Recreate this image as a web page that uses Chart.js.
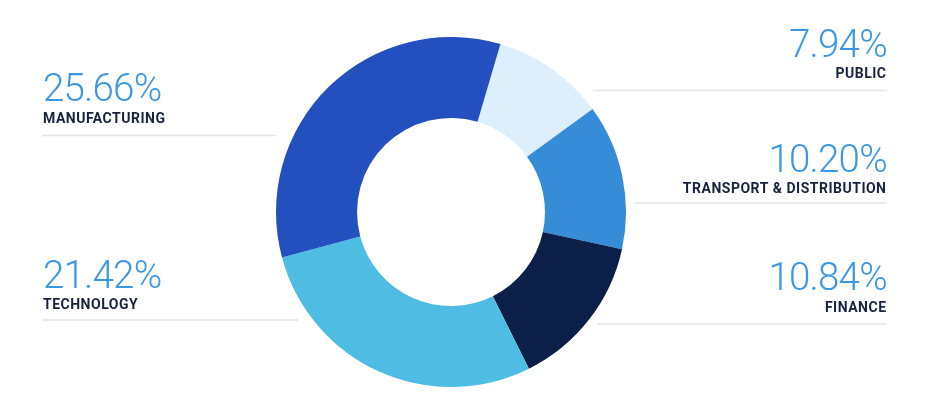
<!DOCTYPE html>
<html>
<head>
<meta charset="utf-8">
<script src="https://cdn.jsdelivr.net/npm/chart.js@4"></script>
<style>
  html, body { margin: 0; padding: 0; background: #fff; }
  #wrap { width: 936px; height: 402px; position: relative; }
</style>
</head>
<body>
<div id="wrap"><canvas id="sectors"></canvas></div>
<script>
// sector shares, clockwise from the top-right slice
const SECTORS = ['PUBLIC', 'TRANSPORT & DISTRIBUTION', 'FINANCE', 'TECHNOLOGY', 'MANUFACTURING'];
const SHARES = [7.94, 10.20, 10.84, 21.42, 25.66];
const COLORS = ['#ddeefd', '#368cd6', '#0b1f48', '#4fbde3', '#2350be'];

// where each callout sits: side, baseline of the big number, baseline of the name, rule y, rule span
const CALLOUTS = [
  { side: 'right', num: 57,  name: 78,  rule: 90.5,  from: 593, to: 887 },
  { side: 'right', num: 172, name: 193, rule: 203,   from: 635, to: 887 },
  { side: 'right', num: 290, name: 311.5, rule: 324, from: 597, to: 887 },
  { side: 'left',  num: 288, name: 309, rule: 320,   from: 42,  to: 298 },
  { side: 'left',  num: 100.5, name: 123, rule: 135.5, from: 42, to: 276 },
];

const calloutPlugin = {
  id: 'callouts',
  afterDraw(chart) {
    const ctx = chart.ctx;
    ctx.save();
    CALLOUTS.forEach((c, i) => {
      const x = c.side === 'left' ? 43 : 886;
      ctx.textAlign = c.side;
      ctx.textBaseline = 'alphabetic';

      ctx.strokeStyle = '#e4e4e6';
      ctx.lineWidth = 1.4;
      ctx.beginPath();
      ctx.moveTo(c.from, c.rule);
      ctx.lineTo(c.to, c.rule);
      ctx.stroke();

      ctx.fillStyle = '#3b97e2';
      ctx.font = '300 38.5px Roboto';
      ctx.letterSpacing = '-0.8px';
      ctx.fillText(SHARES[i].toFixed(2) + '%', c.side === 'left' ? x : x + 0.8, c.num);

      ctx.fillStyle = '#18223f';
      ctx.font = 'bold 14px Roboto';
      ctx.letterSpacing = '0.5px';
      ctx.fillText(SECTORS[i], c.side === 'left' ? x : x + 0.5, c.name);
    });
    ctx.restore();
  }
};

new Chart(document.getElementById('sectors'), {
  type: 'doughnut',
  data: {
    labels: SECTORS,
    datasets: [{ data: SHARES, backgroundColor: COLORS, borderWidth: 0, hoverOffset: 0 }]
  },
  options: {
    responsive: true,
    maintainAspectRatio: false,
    animation: false,
    rotation: 16.4,
    cutout: '53.7%',
    layout: { padding: { top: 37, bottom: 15, left: 276, right: 310 } },
    plugins: { legend: { display: false }, tooltip: { enabled: false } }
  },
  plugins: [calloutPlugin]
});
</script>
</body>
</html>
